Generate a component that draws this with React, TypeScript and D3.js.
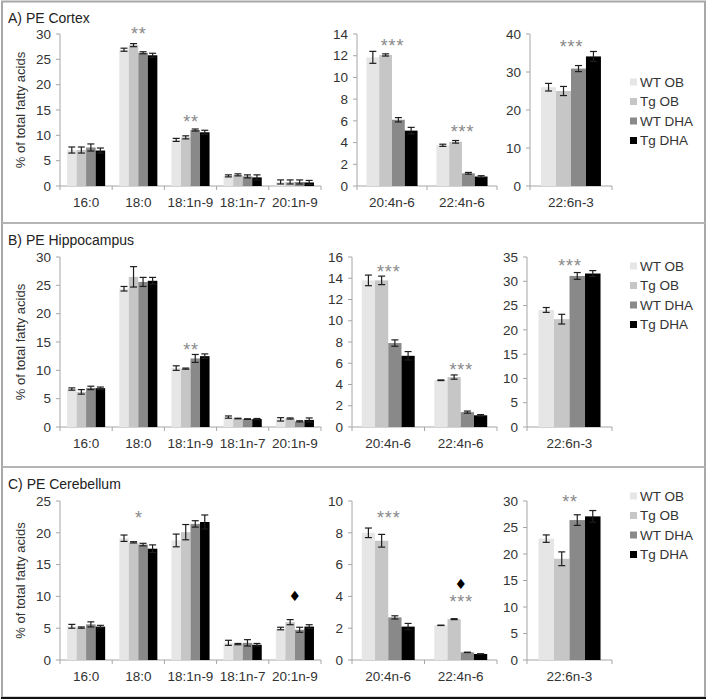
import React from "react";
import * as d3 from "d3";

const SERIES = ["WT OB", "Tg OB", "WT DHA", "Tg DHA"];
const COLORS = ["#e6e6e6", "#c6c6c6", "#898989", "#000000"];

const mainCats = ["16:0", "18:0", "18:1n-9", "18:1n-7", "20:1n-9"];
const n6Cats = ["20:4n-6", "22:4n-6"];
const n3Cats = ["22:6n-3"];

// A) Cortex
const cortexMainMean = [[7.1, 7.1, 7.6, 7.0], [26.9, 27.8, 26.3, 25.8], [9.1, 9.6, 11.05, 10.6], [2.0, 2.2, 1.9, 1.7], [0.8, 0.8, 0.8, 0.7]];
const cortexMainErr = [[0.6, 0.6, 0.7, 0.5], [0.3, 0.3, 0.2, 0.4], [0.3, 0.3, 0.2, 0.4], [0.2, 0.2, 0.3, 0.5], [0.4, 0.4, 0.4, 0.4]];
const cortexN6Mean = [[11.85, 12.07, 6.1, 5.1], [3.75, 4.07, 1.17, 0.87]];
const cortexN6Err = [[0.55, 0.1, 0.2, 0.3], [0.1, 0.12, 0.08, 0.08]];
const cortexN3Mean = [[26.0, 25.0, 30.9, 34.1]];
const cortexN3Err = [[1.0, 1.2, 0.8, 1.3]];
const cortexMainMarks = [["18:0", "**", 30.7], ["18:1n-9", "**", 13.4]];
const cortexN6Marks = [["20:4n-6", "***", 13.3], ["22:4n-6", "***", 5.3]];
const cortexN3Marks = [["22:6n-3", "***", 37.6]];

// B) Hippocampus
const hippoMainMean = [[6.7, 6.2, 6.9, 6.85], [24.4, 26.5, 25.6, 25.8], [10.4, 10.3, 12.1, 12.5], [1.75, 1.5, 1.4, 1.4], [1.35, 1.5, 1.0, 1.25]];
const hippoMainErr = [[0.2, 0.4, 0.3, 0.2], [0.4, 1.8, 0.8, 0.6], [0.4, 0.1, 0.7, 0.4], [0.2, 0.05, 0.05, 0.1], [0.3, 0.1, 0.1, 0.35]];
const hippoN6Mean = [[13.8, 13.8, 7.9, 6.7], [4.4, 4.7, 1.4, 1.1]];
const hippoN6Err = [[0.5, 0.4, 0.3, 0.4], [0.03, 0.2, 0.1, 0.07]];
const hippoN3Mean = [[24.1, 22.2, 31.1, 31.6]];
const hippoN3Err = [[0.5, 1.0, 0.7, 0.6]];
const hippoMainMarks = [["18:1n-9", "**", 14.3]];
const hippoN6Marks = [["20:4n-6", "***", 15.0], ["22:4n-6", "***", 5.75]];
const hippoN3Marks = [["22:6n-3", "***", 34.0]];

// C) Cerebellum
const cereMainMean = [[5.3, 5.1, 5.6, 5.25], [19.15, 18.5, 18.15, 17.5], [18.8, 20.1, 21.4, 21.7], [2.7, 2.5, 2.7, 2.4], [4.95, 5.95, 4.75, 5.25]];
const cereMainErr = [[0.3, 0.1, 0.4, 0.2], [0.5, 0.1, 0.2, 0.6], [1.0, 1.2, 0.5, 1.1], [0.4, 0.1, 0.5, 0.2], [0.2, 0.4, 0.4, 0.3]];
const cereN6Mean = [[8.0, 7.5, 2.68, 2.1], [2.18, 2.57, 0.48, 0.38]];
const cereN6Err = [[0.3, 0.4, 0.1, 0.2], [0.01, 0.03, 0.01, 0.01]];
const cereN3Mean = [[22.9, 19.1, 26.4, 27.1]];
const cereN3Err = [[0.7, 1.3, 1.0, 1.1]];
const cereMainMarks = [["18:0", "*", 22.9], ["20:1n-9", "♦", 10.1]];
const cereN6Marks = [["20:4n-6", "***", 9.2], ["22:4n-6", "***", 3.87], ["22:4n-6", "♦", 4.8]];
const cereN3Marks = [["22:6n-3", "**", 30.6]];

const panelTitles = ["A) PE Cortex", "B) PE Hippocampus", "C) PE Cerebellum"];
const Y_LABEL = "% of total fatty acids";

const FONT = "'Liberation Sans', Arial, sans-serif";
const TEXT = "#333333";
const AXIS = "#a6a6a6";

type Mark = (string | number)[];

function BarChart(props: {
  cats: string[];
  mean: number[][];
  err: number[][];
  max: number;
  step: number;
  x0: number;
  x1: number;
  yTop: number;
  yBottom: number;
  marks: Mark[];
}) {
  const { cats, mean, err, max, step, x0, x1, yTop, yBottom, marks } = props;
  const y = d3.scaleLinear().domain([0, max]).range([yBottom, yTop]);
  const xb = d3.scaleBand<string>().domain(cats).range([x0, x1]).paddingInner(0.27).paddingOuter(0.135);
  const xs = d3.scaleBand<string>().domain(SERIES).range([0, xb.bandwidth()]);
  const ticks = d3.range(0, max + step / 2, step);
  const stepW = xb.step();
  const bounds = d3.range(cats.length + 1).map((i) => x0 + i * stepW);
  return (
    <g>
      <line x1={x0} x2={x0} y1={yTop} y2={yBottom} stroke={AXIS} />
      {ticks.map((t) => (
        <g key={t}>
          <line x1={x0 - 4} x2={x0} y1={y(t)} y2={y(t)} stroke={AXIS} />
          <text x={x0 - 9} y={y(t)} dy="0.35em" textAnchor="end" fontSize={13.5} fill={TEXT} fontFamily={FONT}>
            {t}
          </text>
        </g>
      ))}
      <line x1={x0} x2={x1} y1={yBottom} y2={yBottom} stroke={AXIS} />
      {bounds.map((b, i) => (
        <line key={i} x1={b} x2={b} y1={yBottom} y2={yBottom + 4} stroke={AXIS} />
      ))}
      {cats.map((c, ci) => (
        <g key={c}>
          <text
            x={(xb(c) as number) + xb.bandwidth() / 2}
            y={yBottom + 21}
            textAnchor="middle"
            fontSize={13.5}
            fill={TEXT}
            fontFamily={FONT}
          >
            {c}
          </text>
          {SERIES.map((s, si) => {
            const bx = (xb(c) as number) + (xs(s) as number);
            const v = mean[ci][si];
            const e = err[ci][si];
            const cx = bx + xs.bandwidth() / 2;
            return (
              <g key={s}>
                <rect x={bx} y={y(v)} width={xs.bandwidth()} height={yBottom - y(v)} fill={COLORS[si]} />
                <g stroke="#1e1e1e" strokeWidth={1.2}>
                  <line x1={cx} x2={cx} y1={y(v - e)} y2={y(v + e)} />
                  <line x1={cx - 3.5} x2={cx + 3.5} y1={y(v - e)} y2={y(v - e)} />
                  <line x1={cx - 3.5} x2={cx + 3.5} y1={y(v + e)} y2={y(v + e)} />
                </g>
              </g>
            );
          })}
        </g>
      ))}
      {marks.map((m, i) => {
        const c = m[0] as string;
        const label = m[1] as string;
        const v = m[2] as number;
        const cx = (xb(c) as number) + xb.bandwidth() / 2;
        if (label === "♦") {
          return (
            <text key={i} x={cx} y={y(v)} dy="0.35em" textAnchor="middle" fontSize={14} fill="#000" fontFamily="'DejaVu Sans', sans-serif">
              {label}
            </text>
          );
        }
        return (
          <text
            key={i}
            x={cx + 0.5}
            y={y(v) + 10}
            textAnchor="middle"
            fontSize={18}
            letterSpacing={0.8}
            fill="#8a8a8a"
            fontFamily={FONT}
          >
            {label}
          </text>
        );
      })}
    </g>
  );
}

function Legend({ x, y0, gap }: { x: number; y0: number; gap: number }) {
  return (
    <g>
      {SERIES.map((s, i) => (
        <g key={s}>
          <rect x={x} y={y0 + i * gap - 3.5} width={7} height={7} fill={COLORS[i]} />
          <text x={x + 10} y={y0 + i * gap} dy="0.35em" fontSize={13.5} fill={TEXT} fontFamily={FONT}>
            {s}
          </text>
        </g>
      ))}
    </g>
  );
}

const panels = [
  {
    title: panelTitles[0],
    titleY: 23,
    yTop: 34,
    yBottom: 186,
    legendY: 82,
    main: { mean: cortexMainMean, err: cortexMainErr, max: 30, step: 5, marks: cortexMainMarks },
    n6: { mean: cortexN6Mean, err: cortexN6Err, max: 14, step: 2, marks: cortexN6Marks, x0: 357 },
    n3: { mean: cortexN3Mean, err: cortexN3Err, max: 40, step: 10, marks: cortexN3Marks, x0: 530 },
  },
  {
    title: panelTitles[1],
    titleY: 245,
    yTop: 257,
    yBottom: 427,
    legendY: 266,
    main: { mean: hippoMainMean, err: hippoMainErr, max: 30, step: 5, marks: hippoMainMarks },
    n6: { mean: hippoN6Mean, err: hippoN6Err, max: 16, step: 2, marks: hippoN6Marks, x0: 352 },
    n3: { mean: hippoN3Mean, err: hippoN3Err, max: 35, step: 5, marks: hippoN3Marks, x0: 527 },
  },
  {
    title: panelTitles[2],
    titleY: 489,
    yTop: 501,
    yBottom: 660,
    legendY: 496,
    main: { mean: cereMainMean, err: cereMainErr, max: 25, step: 5, marks: cereMainMarks },
    n6: { mean: cereN6Mean, err: cereN6Err, max: 10, step: 2, marks: cereN6Marks, x0: 352 },
    n3: { mean: cereN3Mean, err: cereN3Err, max: 30, step: 5, marks: cereN3Marks, x0: 527 },
  },
];

export default function App() {
  return (
    <svg
      width={708}
      height={700}
      style={{ position: "absolute", left: 0, top: 0, background: "#fff" }}
      fontFamily={FONT}
    >
      <rect x={0} y={0} width={708} height={700} fill="#fff" />
      <rect x={2} y={1.5} width={703} height={696} fill="none" stroke="#a8a8a8" strokeWidth={2} />
      <line x1={2} x2={705} y1={223} y2={223} stroke="#b4b4b4" strokeWidth={2} />
      <line x1={2} x2={705} y1={467} y2={467} stroke="#b4b4b4" strokeWidth={2} />
      <line x1={1} x2={706} y1={698} y2={698} stroke="#111" strokeWidth={2} />
      {panels.map((p, pi) => (
        <g key={pi}>
          <text x={8} y={p.titleY} fontSize={14} fill="#222" fontFamily={FONT}>
            {p.title}
          </text>
          <text
            transform={`translate(20, ${(p.yTop + p.yBottom) / 2}) rotate(-90)`}
            dy="0.35em"
            textAnchor="middle"
            fontSize={13}
            fill={TEXT}
            fontFamily={FONT}
          >
            {Y_LABEL}
          </text>
          <BarChart cats={mainCats} {...p.main} x0={60} x1={321} yTop={p.yTop} yBottom={p.yBottom} />
          <BarChart cats={n6Cats} {...p.n6} x1={497} yTop={p.yTop} yBottom={p.yBottom} />
          <BarChart cats={n3Cats} {...p.n3} x1={612} yTop={p.yTop} yBottom={p.yBottom} />
          <Legend x={630} y0={p.legendY} gap={19.5} />
        </g>
      ))}
    </svg>
  );
}
